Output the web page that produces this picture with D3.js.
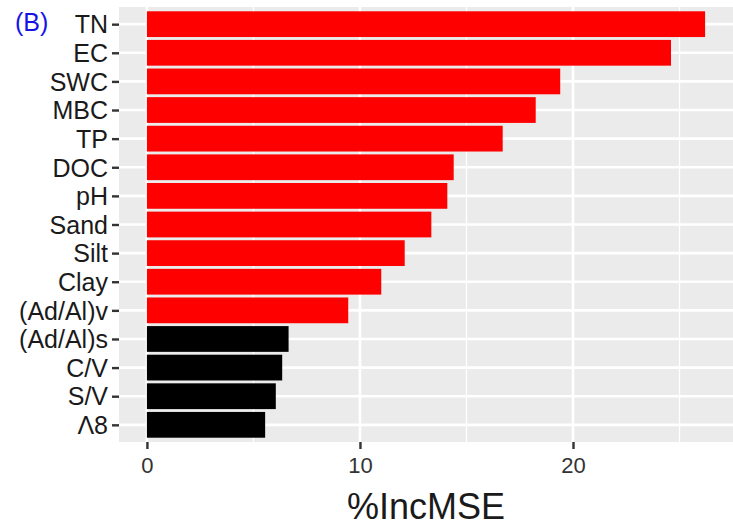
<!DOCTYPE html>
<html>
<head>
<meta charset="utf-8">
<script src="https://cdn.jsdelivr.net/npm/d3@7"></script>
<style>
  body { margin: 0; background: #fff; }
  svg { display: block; font-family: "Liberation Sans", Arial, sans-serif; }
</style>
</head>
<body>
<div id="chart"></div>
<script>
// variables, top to bottom
const variables = ['TN', 'EC', 'SWC', 'MBC', 'TP', 'DOC', 'pH', 'Sand', 'Silt', 'Clay',
  '(Ad/Al)v', '(Ad/Al)s', 'C/V', 'S/V', 'Λ8'];
const incMSE = [26.2, 24.6, 19.4, 18.25, 16.7, 14.4, 14.1, 13.35, 12.1, 11.0,
  9.45, 6.65, 6.35, 6.05, 5.55];
const significant = [true, true, true, true, true, true, true, true, true, true,
  true, false, false, false, false];
const xTicks = [0, 10, 20];
const xMinor = [5, 15, 25];

const width = 733;
const height = 528;
const margin = { top: 7, right: 0, bottom: 86, left: 119 };

const svg = d3.select('#chart')
  .append('svg')
  .attr('width', width)
  .attr('height', height);

const pw = width - margin.left - margin.right;
const ph = height - margin.top - margin.bottom;

// ggplot-like expansion
const xmax = d3.max(incMSE);
const pad = xmax * 0.05;
const x = d3.scaleLinear()
  .domain([-pad, xmax + pad])
  .range([margin.left, margin.left + pw]);

const n = variables.length;
const unit = ph / (n - 1 + 1.2);
const y = d3.scalePoint()
  .domain(variables)
  .range([margin.top + 0.6 * unit, margin.top + ph - 0.6 * unit]);
const barH = unit * 0.9;

// panel
svg.append('rect')
  .attr('x', margin.left)
  .attr('y', margin.top)
  .attr('width', pw)
  .attr('height', ph)
  .attr('fill', '#ebebeb');

// grid
const grid = svg.append('g');
grid.selectAll('.minor')
  .data(xMinor)
  .enter().append('line')
  .attr('x1', d => x(d)).attr('x2', d => x(d))
  .attr('y1', margin.top).attr('y2', margin.top + ph)
  .attr('stroke', '#fff').attr('stroke-width', 1.3);
grid.selectAll('.major')
  .data(xTicks)
  .enter().append('line')
  .attr('x1', d => x(d)).attr('x2', d => x(d))
  .attr('y1', margin.top).attr('y2', margin.top + ph)
  .attr('stroke', '#fff').attr('stroke-width', 2.6);
grid.selectAll('.hmajor')
  .data(variables)
  .enter().append('line')
  .attr('x1', margin.left).attr('x2', margin.left + pw)
  .attr('y1', d => y(d)).attr('y2', d => y(d))
  .attr('stroke', '#fff').attr('stroke-width', 2.6);

// bars
svg.append('g')
  .selectAll('rect')
  .data(variables)
  .enter().append('rect')
  .attr('x', x(0))
  .attr('y', d => y(d) - barH / 2)
  .attr('width', (d, i) => x(incMSE[i]) - x(0))
  .attr('height', barH)
  .attr('fill', (d, i) => significant[i] ? '#ff0000' : '#000000');

// y axis
const yAxis = d3.axisLeft(y).tickSize(7).tickPadding(4);
const gy = svg.append('g')
  .attr('transform', `translate(${margin.left},0)`)
  .call(yAxis);
gy.select('.domain').remove();
gy.selectAll('line').attr('stroke', '#333').attr('stroke-width', 2.4);
gy.selectAll('text')
  .attr('fill', '#1a1a1a')
  .style('font-size', '25px')
  .attr('dy', '0.35em');

// x axis
const xAxis = d3.axisBottom(x).tickValues(xTicks).tickSize(7).tickPadding(6);
const gx = svg.append('g')
  .attr('transform', `translate(0,${margin.top + ph})`)
  .call(xAxis);
gx.select('.domain').remove();
gx.selectAll('line').attr('stroke', '#333').attr('stroke-width', 2.4);
gx.selectAll('text')
  .attr('fill', '#333')
  .attr('dy', null)
  .attr('y', 31)
  .style('font-size', '22px');

// axis title
svg.append('text')
  .attr('x', margin.left + pw / 2)
  .attr('y', 519)
  .attr('text-anchor', 'middle')
  .attr('fill', '#1a1a1a')
  .style('font-size', '36px')
  .text('%IncMSE');

// panel label
svg.append('text')
  .attr('x', 15)
  .attr('y', 31)
  .attr('fill', '#1414e6')
  .style('font-size', '25px')
  .text('(B)');
</script>
</body>
</html>
